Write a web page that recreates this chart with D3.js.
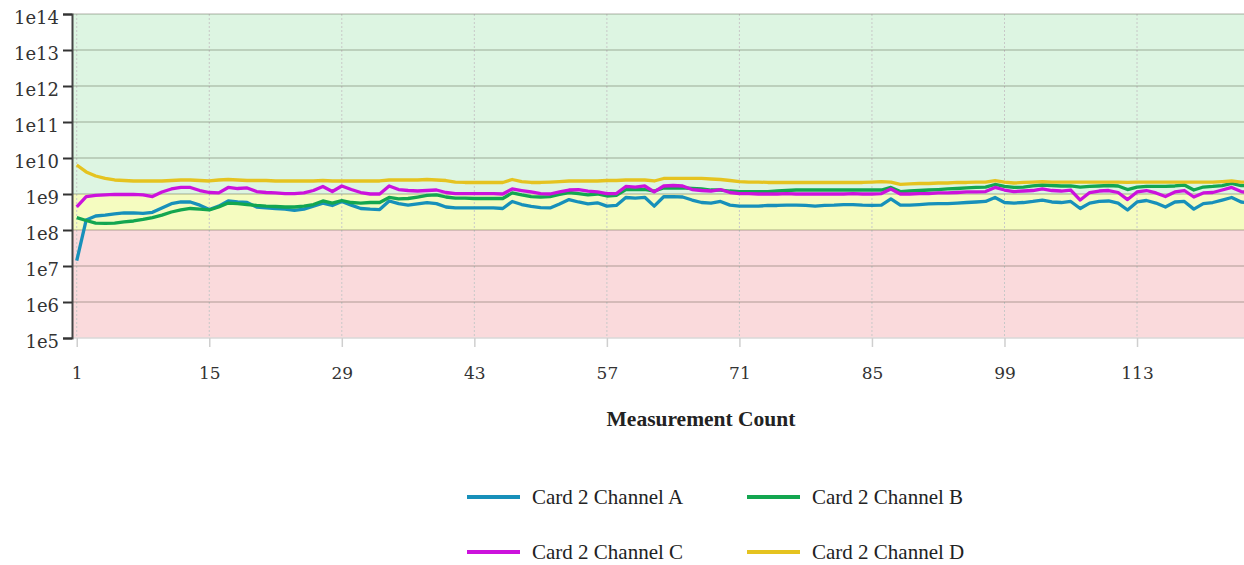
<!DOCTYPE html>
<html>
<head>
<meta charset="utf-8">
<script src="https://cdn.jsdelivr.net/npm/d3@7"></script>
<style>
  body { margin: 0; background: #fff; }
  svg { display: block; }
</style>
</head>
<body>
<svg id="chart" width="1244" height="565"></svg>
<script>
// Measurement index (x) and per-channel readings (y, log scale)
const measurementCount = d3.range(1, 126);

const channelA = [
  1.4e7, 1.9e8, 2.45e8, 2.6e8, 2.8e8, 2.97e8, 3.0e8, 2.9e8, 3.1e8, 4.1e8,
  5.4e8, 6.0e8, 6.0e8, 4.9e8, 3.7e8, 4.6e8, 6.4e8, 6.0e8, 5.8e8, 4.35e8,
  4.1e8, 3.96e8, 3.8e8, 3.5e8, 3.8e8, 4.6e8, 5.6e8, 4.8e8, 6.2e8, 4.9e8,
  3.96e8, 3.8e8, 3.7e8, 6.4e8, 5.4e8, 4.9e8, 5.3e8, 5.8e8, 5.4e8, 4.35e8,
  4.1e8, 4.1e8, 4.1e8, 4.1e8, 4.1e8, 3.96e8, 6.2e8, 5.1e8, 4.5e8, 4.2e8,
  4.1e8, 5.3e8, 7.0e8, 6.0e8, 5.3e8, 5.7e8, 4.6e8, 4.8e8, 8.0e8, 7.7e8,
  8.1e8, 4.6e8, 8.4e8, 8.5e8, 8.25e8, 6.8e8, 5.8e8, 5.6e8, 6.2e8, 4.9e8,
  4.6e8, 4.6e8, 4.6e8, 4.8e8, 4.8e8, 4.9e8, 4.9e8, 4.8e8, 4.6e8, 4.8e8,
  4.9e8, 5.1e8, 5.1e8, 4.9e8, 4.8e8, 4.9e8, 7.3e8, 4.9e8, 4.9e8, 5.1e8,
  5.3e8, 5.4e8, 5.4e8, 5.6e8, 5.8e8, 6.0e8, 6.2e8, 8.0e8, 5.8e8, 5.6e8,
  5.8e8, 6.2e8, 6.8e8, 6.0e8, 5.8e8, 6.2e8, 3.96e8, 5.6e8, 6.2e8, 6.4e8,
  5.6e8, 3.6e8, 6.0e8, 6.6e8, 5.6e8, 4.35e8, 6.0e8, 6.2e8, 3.8e8, 5.4e8,
  5.8e8, 6.8e8, 8.0e8, 6.0e8, 5.6e8
];

const channelB = [
  2.2e8, 1.84e8, 1.56e8, 1.53e8, 1.56e8, 1.67e8, 1.78e8, 1.96e8, 2.22e8, 2.6e8,
  3.16e8, 3.6e8, 3.96e8, 3.8e8, 3.6e8, 4.35e8, 5.6e8, 5.4e8, 5.1e8, 4.8e8,
  4.6e8, 4.5e8, 4.35e8, 4.35e8, 4.6e8, 5.1e8, 6.4e8, 5.6e8, 6.6e8, 5.8e8,
  5.6e8, 5.8e8, 5.8e8, 8.0e8, 7.3e8, 7.5e8, 8.25e8, 9.1e8, 9.4e8, 8.25e8,
  7.7e8, 7.7e8, 7.5e8, 7.5e8, 7.5e8, 7.5e8, 1.07e9, 9.4e8, 8.5e8, 8.25e8,
  8.5e8, 9.7e8, 1.1e9, 1.03e9, 9.4e8, 1.0e9, 8.8e8, 9.1e8, 1.33e9, 1.33e9,
  1.35e9, 1.21e9, 1.47e9, 1.47e9, 1.47e9, 1.42e9, 1.38e9, 1.29e9, 1.29e9, 1.21e9,
  1.17e9, 1.17e9, 1.17e9, 1.17e9, 1.21e9, 1.25e9, 1.29e9, 1.29e9, 1.29e9, 1.29e9,
  1.29e9, 1.29e9, 1.29e9, 1.29e9, 1.29e9, 1.29e9, 1.52e9, 1.17e9, 1.21e9, 1.25e9,
  1.29e9, 1.33e9, 1.38e9, 1.42e9, 1.47e9, 1.52e9, 1.56e9, 1.84e9, 1.62e9, 1.52e9,
  1.56e9, 1.67e9, 1.78e9, 1.72e9, 1.67e9, 1.67e9, 1.56e9, 1.62e9, 1.67e9, 1.72e9,
  1.67e9, 1.33e9, 1.56e9, 1.62e9, 1.62e9, 1.62e9, 1.67e9, 1.78e9, 1.29e9, 1.56e9,
  1.62e9, 1.72e9, 1.96e9, 1.72e9, 1.67e9
];

const channelC = [
  4.4e8, 8.4e8, 9.1e8, 9.4e8, 9.7e8, 9.7e8, 9.7e8, 9.4e8, 8.5e8, 1.14e9,
  1.38e9, 1.52e9, 1.52e9, 1.25e9, 1.1e9, 1.07e9, 1.52e9, 1.42e9, 1.47e9, 1.17e9,
  1.1e9, 1.07e9, 1.03e9, 1.03e9, 1.07e9, 1.25e9, 1.62e9, 1.17e9, 1.67e9, 1.33e9,
  1.1e9, 1.0e9, 1.0e9, 1.67e9, 1.33e9, 1.25e9, 1.21e9, 1.25e9, 1.29e9, 1.1e9,
  1.03e9, 1.03e9, 1.03e9, 1.03e9, 1.03e9, 1.0e9, 1.38e9, 1.25e9, 1.14e9, 1.03e9,
  1.0e9, 1.14e9, 1.29e9, 1.33e9, 1.21e9, 1.14e9, 1.03e9, 1.03e9, 1.62e9, 1.56e9,
  1.67e9, 1.14e9, 1.67e9, 1.72e9, 1.67e9, 1.33e9, 1.25e9, 1.21e9, 1.33e9, 1.1e9,
  1.03e9, 1.03e9, 1.0e9, 1.0e9, 1.0e9, 1.03e9, 1.0e9, 1.0e9, 1.0e9, 1.0e9,
  1.0e9, 1.0e9, 1.03e9, 1.0e9, 1.0e9, 1.03e9, 1.38e9, 1.0e9, 1.0e9, 1.03e9,
  1.03e9, 1.07e9, 1.07e9, 1.1e9, 1.14e9, 1.14e9, 1.17e9, 1.52e9, 1.29e9, 1.17e9,
  1.21e9, 1.25e9, 1.38e9, 1.25e9, 1.21e9, 1.29e9, 6.8e8, 1.1e9, 1.21e9, 1.25e9,
  1.1e9, 7.0e8, 1.14e9, 1.25e9, 1.07e9, 8.5e8, 1.14e9, 1.25e9, 8.25e8, 1.07e9,
  1.1e9, 1.29e9, 1.52e9, 1.17e9, 1.07e9
];

const channelD = [
  6.4e9, 4.1e9, 3.16e9, 2.7e9, 2.45e9, 2.37e9, 2.3e9, 2.3e9, 2.3e9, 2.3e9,
  2.37e9, 2.45e9, 2.45e9, 2.37e9, 2.3e9, 2.45e9, 2.53e9, 2.45e9, 2.37e9, 2.37e9,
  2.37e9, 2.3e9, 2.3e9, 2.3e9, 2.3e9, 2.3e9, 2.37e9, 2.3e9, 2.3e9, 2.3e9,
  2.3e9, 2.3e9, 2.3e9, 2.45e9, 2.45e9, 2.45e9, 2.45e9, 2.53e9, 2.45e9, 2.37e9,
  2.15e9, 2.09e9, 2.09e9, 2.09e9, 2.09e9, 2.09e9, 2.53e9, 2.22e9, 2.09e9, 2.09e9,
  2.15e9, 2.22e9, 2.3e9, 2.3e9, 2.3e9, 2.3e9, 2.37e9, 2.37e9, 2.45e9, 2.45e9,
  2.45e9, 2.3e9, 2.7e9, 2.7e9, 2.7e9, 2.7e9, 2.7e9, 2.61e9, 2.53e9, 2.37e9,
  2.22e9, 2.15e9, 2.15e9, 2.09e9, 2.09e9, 2.09e9, 2.09e9, 2.09e9, 2.09e9, 2.09e9,
  2.09e9, 2.09e9, 2.09e9, 2.09e9, 2.15e9, 2.22e9, 2.15e9, 1.84e9, 1.9e9, 1.96e9,
  1.96e9, 2.02e9, 2.02e9, 2.09e9, 2.09e9, 2.15e9, 2.15e9, 2.37e9, 2.15e9, 2.02e9,
  2.09e9, 2.15e9, 2.22e9, 2.15e9, 2.15e9, 2.15e9, 2.15e9, 2.15e9, 2.15e9, 2.15e9,
  2.15e9, 2.09e9, 2.15e9, 2.15e9, 2.15e9, 2.15e9, 2.15e9, 2.15e9, 2.15e9, 2.15e9,
  2.15e9, 2.22e9, 2.3e9, 2.15e9, 2.09e9
];

const seriesNames = ["Card 2 Channel A", "Card 2 Channel B", "Card 2 Channel C", "Card 2 Channel D"];
const seriesColors = ["#1790ba", "#13a650", "#cc12dc", "#e5c320"];
const seriesValues = [channelA, channelB, channelC, channelD];

// Quality bands on the y axis: lower bound, upper bound
const bandBounds = [[1e5, 1e8], [1e8, 1e9], [1e9, 1e14]];
const bandColors = ["#fadadc", "#f5fcc0", "#ddf5e2"];

const yTickValues = [1e5, 1e6, 1e7, 1e8, 1e9, 1e10, 1e11, 1e12, 1e13, 1e14];
const yTickLabels = ["1e5", "1e6", "1e7", "1e8", "1e9", "1e10", "1e11", "1e12", "1e13", "1e14"];
const xTickValues = [1, 15, 29, 43, 57, 71, 85, 99, 113];
const xAxisTitle = "Measurement Count";

const svg = d3.select("#chart");
const plot = { left: 72, right: 1244, top: 14, bottom: 338 };

const x = d3.scaleLinear().domain([0.5, 124.3]).range([plot.left, plot.right]);
const y = d3.scaleLog().domain([1e5, 1e14]).range([plot.bottom, plot.top]);

svg.append("defs").append("clipPath").attr("id", "plot-clip")
  .append("rect")
  .attr("x", plot.left).attr("y", plot.top)
  .attr("width", plot.right - plot.left).attr("height", plot.bottom - plot.top);

// Coloured bands
svg.append("g").selectAll("rect")
  .data(bandBounds)
  .join("rect")
  .attr("x", plot.left)
  .attr("width", plot.right - plot.left)
  .attr("y", d => y(d[1]))
  .attr("height", d => y(d[0]) - y(d[1]))
  .attr("fill", (d, i) => bandColors[i]);

// Vertical dotted grid
svg.append("g").selectAll("line")
  .data(xTickValues)
  .join("line")
  .attr("x1", d => x(d)).attr("x2", d => x(d))
  .attr("y1", plot.top).attr("y2", plot.bottom)
  .attr("stroke", "#c8c8c8")
  .attr("stroke-width", 1)
  .attr("stroke-dasharray", "2,2");

// Horizontal grid at each decade
svg.append("g").selectAll("line")
  .data(yTickValues)
  .join("line")
  .attr("x1", plot.left).attr("x2", plot.right)
  .attr("y1", d => y(d)).attr("y2", d => y(d))
  .attr("stroke", d => d === 1e5 ? "#d8d8d8" : "rgba(60,60,40,0.27)")
  .attr("stroke-width", 1.5);

// Series lines
const line = d3.line()
  .x((d, i) => x(measurementCount[i]))
  .y(d => y(d));

svg.append("g").attr("clip-path", "url(#plot-clip)")
  .selectAll("path")
  .data(seriesValues)
  .join("path")
  .attr("d", d => line(d))
  .attr("fill", "none")
  .attr("stroke", (d, i) => seriesColors[i])
  .attr("stroke-width", 3.3)
  .attr("stroke-linejoin", "round");

// Y axis
const yAxis = d3.axisLeft(y)
  .tickValues(yTickValues)
  .tickFormat((d, i) => yTickLabels[i])
  .tickSize(9)
  .tickPadding(4);

const gy = svg.append("g")
  .attr("transform", `translate(${plot.left},0)`)
  .call(yAxis);
gy.select(".domain").attr("stroke", "#444").attr("stroke-width", 2);
gy.selectAll(".tick line").attr("stroke", "#333").attr("stroke-width", 2);
gy.selectAll(".tick text")
  .attr("font-family", "'DejaVu Serif', serif")
  .attr("font-size", 18)
  .attr("fill", "#333")
  .attr("dy", "0.5em");

// X axis
const xAxis = d3.axisBottom(x)
  .tickValues(xTickValues)
  .tickFormat(d3.format("d"))
  .tickSize(9)
  .tickPadding(20);

const gx = svg.append("g")
  .attr("transform", `translate(0,${plot.bottom})`)
  .call(xAxis);
gx.select(".domain").remove();
gx.selectAll(".tick line").attr("stroke", "#cfcfcf").attr("stroke-width", 1.5);
gx.selectAll(".tick text")
  .attr("font-family", "'DejaVu Serif', serif")
  .attr("font-size", 17)
  .attr("fill", "#333");

// Axis title
svg.append("text")
  .attr("x", 701)
  .attr("y", 418)
  .attr("dy", "0.35em")
  .attr("text-anchor", "middle")
  .attr("font-family", "'Liberation Serif', serif")
  .attr("font-weight", "bold")
  .attr("font-size", 21.5)
  .attr("fill", "#222")
  .text(xAxisTitle);

// Legend (2 x 2)
const legendCols = [467, 747];
const legendRows = [497, 552];
const legend = svg.append("g").selectAll("g")
  .data(seriesNames)
  .join("g")
  .attr("transform", (d, i) => `translate(${legendCols[i % 2]},${legendRows[Math.floor(i / 2)]})`);

legend.append("line")
  .attr("x1", 0).attr("x2", 53)
  .attr("y1", 0).attr("y2", 0)
  .attr("stroke", (d, i) => seriesColors[i])
  .attr("stroke-width", 4);

legend.append("text")
  .attr("x", 65)
  .attr("dy", "0.33em")
  .attr("font-family", "'Liberation Serif', serif")
  .attr("font-size", 21)
  .attr("fill", "#222")
  .text(d => d);
</script>
</body>
</html>
